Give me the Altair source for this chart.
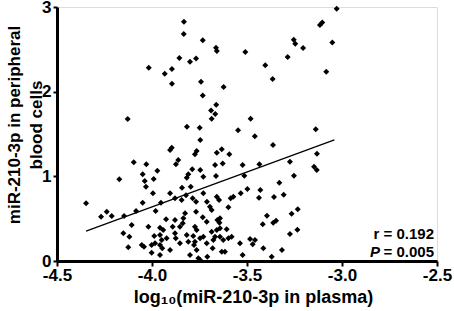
import altair as alt
import pandas as pd

plasma_log10 = [
    -3.832, -3.833, -3.733, -3.663, -3.659, -3.509, -4.017, -3.856, -3.800, -3.768,
    -3.895, -3.933, -3.895, -3.742, -3.623, -3.733, -3.662, -3.689, -3.667, -3.686,
    -3.481, -4.128, -3.816, -3.749, -3.547, -3.459, -3.746, -3.028, -3.104, -3.116,
    -3.254, -3.246, -3.205, -3.051, -3.286, -3.404, -3.365, -3.083, -3.138, -3.363,
    -3.132, -3.274, -3.435, -3.523, -3.147, -3.133, -3.253, -3.514, -3.330, -3.498,
    -3.430, -3.437, -3.358, -3.307, -3.395, -3.233, -3.265, -3.347, -3.362, -3.417,
    -3.235, -3.274, -3.484, -3.458, -3.470, -3.414, -3.316, -3.523, -3.370,
    -3.896, -3.905, -3.659, -3.633, -3.593, -3.765, -3.774, -4.096, -4.030, -3.862,
    -3.874, -3.668, -3.628, -3.972, -4.049, -3.809, -3.817, -3.788, -3.746, -3.730,
    -4.172, -4.038, -4.032, -3.991, -3.842, -3.796, -3.995, -3.905, -3.879, -3.844,
    -3.821, -3.786, -3.768, -3.730, -3.711, -3.695, -3.686, -3.659, -3.647, -3.586,
    -3.572, -3.533, -4.347, -4.049, -3.953, -4.084, -3.981, -3.768, -4.238, -4.268,
    -4.212, -4.147, -3.826, -3.733, -3.642, -3.598, -3.926, -3.835, -4.107, -4.019,
    -3.958, -3.891, -3.838, -3.853, -3.774, -3.765, -3.712, -3.686, -3.659, -3.642,
    -3.625, -4.151, -4.119, -3.988, -3.958, -3.949, -3.923, -3.879, -3.875, -3.817,
    -3.809, -3.783, -3.747, -3.730, -3.668, -3.598, -3.581, -3.537, -4.054, -4.042,
    -4.125, -4.002, -3.984, -3.946, -3.958, -3.905, -3.779, -3.712, -3.681, -3.633,
    -3.616, -4.002, -3.958, -3.800, -3.765, -3.709, -3.756, -3.853, -3.747, -3.677,
    -3.656, -3.645, -3.607, -3.663, -3.879, -3.941, -3.774, -3.642,
]
pbc_level = [
    2.825, 2.680, 2.606, 2.518, 2.479, 2.468, 2.282, 2.397, 2.353, 2.393,
    2.267, 2.211, 2.093, 2.117, 2.054, 1.956, 1.845, 1.779, 1.736, 1.680,
    1.680, 1.677, 1.586, 1.574, 1.543, 1.472, 1.429, 2.979, 2.818, 2.786,
    2.613, 2.566, 2.515, 2.582, 2.408, 2.311, 2.149, 2.235, 1.555, 1.370,
    1.267, 1.172, 1.142, 1.133, 1.113, 1.074, 1.007, 1.007, 0.924, 0.850,
    0.838, 0.747, 0.756, 0.783, 0.535, 0.610, 0.558, 0.476, 0.452, 0.433,
    0.370, 0.319, 0.260, 0.248, 0.197, 0.150, 0.130, 0.071, 0.051,
    1.338, 1.311, 1.279, 1.319, 1.260, 1.299, 1.260, 1.165, 1.142, 1.192,
    1.142, 1.133, 1.153, 1.066, 1.024, 1.024, 0.983, 1.083, 1.074, 0.995,
    0.965, 0.945, 0.877, 0.968, 0.865, 0.877, 0.799, 0.799, 0.740, 0.720,
    0.776, 0.740, 0.700, 0.799, 0.700, 0.641, 0.602, 0.759, 0.720, 0.740,
    0.759, 0.799, 0.681, 0.688, 0.688, 0.590, 0.590, 0.582, 0.582, 0.523,
    0.531, 0.531, 0.563, 0.516, 0.504, 0.634, 0.492, 0.504, 0.425, 0.405,
    0.393, 0.405, 0.445, 0.405, 0.405, 0.366, 0.464, 0.346, 0.366, 0.287,
    0.248, 0.327, 0.287, 0.295, 0.307, 0.248, 0.268, 0.327, 0.268, 0.307,
    0.228, 0.295, 0.268, 0.287, 0.287, 0.268, 0.287, 0.209, 0.189, 0.169,
    0.162, 0.189, 0.209, 0.150, 0.189, 0.130, 0.189, 0.209, 0.150, 0.110,
    0.110, 0.098, 0.071, 0.071, 0.130, 0.051, 0.032, 0.209, 0.012, 0.248,
    0.484, 0.452, 0.374, 1.004, 0.484, 0.366, 0.228, 0.386,
]

fit_x = [-4.347, -3.040]
fit_y = [0.354, 1.430]

stat_lines = ["r = 0.192", "= 0.005"]
stat_y = [0.256, 0.051]

y_title_lines = ["miR-210-3p in peripheral", "blood cells"]
y_title_offsets = [-37, -15]

FONT = "Liberation Sans"

pts = pd.DataFrame({"x": plasma_log10, "y": pbc_level})
fit = pd.DataFrame({"x": fit_x, "y": fit_y})
stats = pd.DataFrame({"x": [-2.5, -2.5], "y": stat_y, "t": stat_lines})
pdf = pd.DataFrame({"x": [-2.5], "y": [stat_y[1]], "t": ["P"]})
ytdf = pd.DataFrame({"px": y_title_offsets, "t": y_title_lines})

xscale = alt.Scale(domain=[-4.5, -2.5], nice=False, zero=False)
yscale = alt.Scale(domain=[0, 3], nice=False)

xaxis = alt.Axis(
    values=[-4.5, -4.0, -3.5, -3.0, -2.5],
    labelExpr="'-' + format(abs(datum.value), '.1f')",
    title="log₁₀(miR-210-3p in plasma)",
    titleX=196, titleY=41, titleAlign="center", titleBaseline="alphabetic",
    titleFont=FONT, titleFontSize=18, titleFontWeight="bold", titleColor="black",
    labelFont=FONT, labelFontSize=17, labelFontWeight="bold", labelColor="black",
    labelPadding=1, labelFlush=False, labelOverlap=False,
    domainColor="black", domainWidth=3, tickColor="black", tickWidth=2, tickSize=5,
    grid=False,
)
yaxis = alt.Axis(
    values=[0, 1, 2, 3],
    format="d",
    title=None,
    labelFont=FONT, labelFontSize=17, labelFontWeight="bold", labelColor="black",
    labelPadding=2, labelFlush=False, labelOverlap=False,
    domainColor="black", domainWidth=3, tickColor="black", tickWidth=2, tickSize=4,
    grid=False,
)

points = alt.Chart(pts).mark_point(shape="diamond", filled=True, size=36, color="black", opacity=1).encode(
    x=alt.X("x:Q", scale=xscale, axis=xaxis),
    y=alt.Y("y:Q", scale=yscale, axis=yaxis),
)
line = alt.Chart(fit).mark_line(color="black", strokeWidth=1.3).encode(
    x=alt.X("x:Q", scale=xscale), y=alt.Y("y:Q", scale=yscale)
)
text = alt.Chart(stats).mark_text(align="right", baseline="alphabetic", dx=-3, font=FONT,
                                  fontSize=15, fontWeight="bold", color="black").encode(
    x=alt.X("x:Q", scale=xscale), y=alt.Y("y:Q", scale=yscale), text="t:N"
)
ptext = alt.Chart(pdf).mark_text(align="right", baseline="alphabetic", dx=-57, font=FONT,
                                 fontSize=15, fontWeight="bold", fontStyle="italic", color="black").encode(
    x=alt.X("x:Q", scale=xscale), y=alt.Y("y:Q", scale=yscale), text="t:N"
)
ytitle = alt.Chart(ytdf).mark_text(align="center", baseline="alphabetic", angle=270, font=FONT,
                                   fontSize=17, fontWeight="bold", color="black").encode(
    x=alt.X("px:Q", scale=None, axis=None), y=alt.value(118), text="t:N"
)

chart = alt.layer(points, line, text, ptext, ytitle).properties(
    width=380, height=254,
    padding={"left": 57, "top": 7, "right": 17, "bottom": 50},
    autosize=alt.AutoSizeParams(type="none"),
).configure_view(stroke=None).configure(background="white")

chart.save("out.html", embed_options={"renderer": "svg", "actions": False})
